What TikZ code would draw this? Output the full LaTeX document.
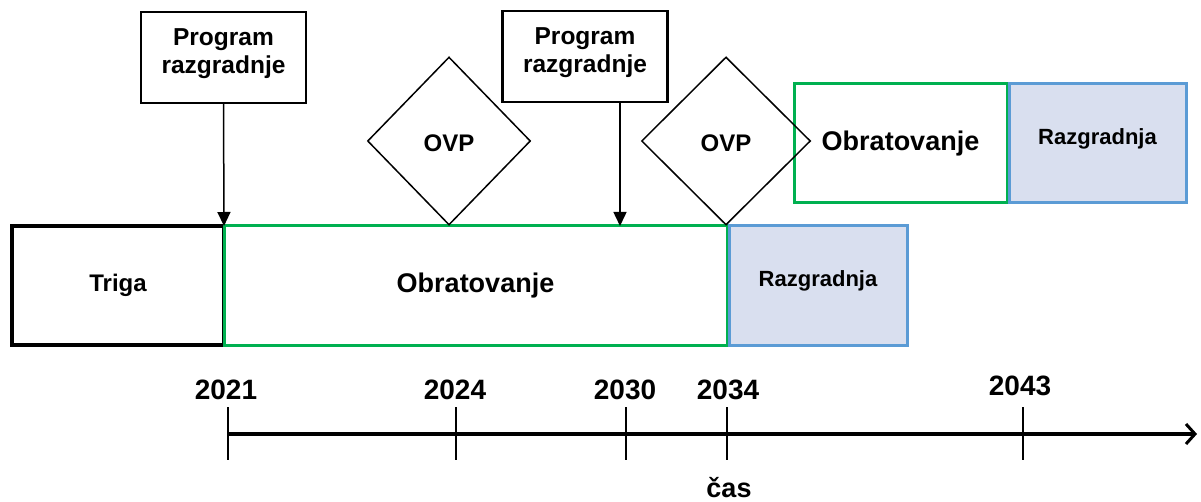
\documentclass[tikz,border=0pt]{standalone}
\usepackage{fontspec}
\setmainfont{Liberation Sans}
\usetikzlibrary{shapes.geometric,arrows.meta}
\definecolor{grn}{HTML}{00B050}
\definecolor{blu}{HTML}{5B9BD5}
\definecolor{blufill}{HTML}{D9DFEF}
\tikzset{
  box/.style={draw, inner sep=0pt, outer sep=0pt, align=center},
  blackbox/.style={box, line width=3.2pt, minimum width=212pt, minimum height=119pt, font=\fontsize{24}{28}\selectfont\bfseries},
  opbox/.style={box, draw=grn, line width=3pt, minimum height=119pt, font=\fontsize{27}{32}\selectfont\bfseries},
  razbox/.style={box, draw=blu, fill=blufill, line width=3pt, minimum width=177pt, minimum height=119pt, text height=15.8pt, text depth=12.8pt, font=\fontsize{22}{26}\selectfont\bfseries},
  progbox/.style={box, line width=2.5pt, minimum width=165pt, minimum height=91pt},
  progtext/.style={inner sep=0pt, align=center, font=\fontsize{24.5}{28}\selectfont\bfseries},
  ovp/.style={draw, diamond, line width=1.5pt, inner sep=0pt, minimum width=163pt, minimum height=168pt, text height=22pt, text depth=0pt, font=\fontsize{24}{28}\selectfont\bfseries},
  yearlbl/.style={font=\fontsize{28}{32}\selectfont\bfseries, inner sep=0pt, anchor=base},
  tick/.style={line width=1.5pt},
  arr/.style={line width=1.5pt, -{Triangle[length=14pt,width=13pt]}}
}
\begin{document}
\begin{tikzpicture}[x=1pt,y=-1pt]
\useasboundingbox (0,0) rectangle (1201,502);
% lower row
\node[blackbox] (triga) at (118,285.5) {Triga};
\node[opbox, minimum width=503pt] (obr1) at (475.5,285.5) {Obratovanje};
\node[razbox, minimum width=178pt] (raz1) at (818,285.5) {Razgradnja};
% upper row
\node[opbox, minimum width=213pt] (obr2) at (900.5,143.5) {Obratovanje};
\node[razbox] (raz2) at (1097.5,143.5) {Razgradnja};
% program boxes
\node[progbox] (p1) at (223.5,57.5) {};
\node[progtext, anchor=base] (p1t) at (223.5,74) {Program\\razgradnje};
\node[progbox] (p2) at (585,56.5) {};
\node[progtext, anchor=base] (p2t) at (585,73) {Program\\razgradnje};
% diamonds
\node[ovp] (ovp1) at (449,141) {OVP};
\node[ovp, minimum width=169pt] (ovp2) at (726,141) {OVP};
% arrows
\coordinate (a2) at (620,0);
\draw[arr] (p1.south) -- (triga.north east);
\draw[arr] (p2.south -| a2) -- (a2 |- obr1.north);
% axis
\coordinate (a0) at (228,434);
\coordinate (a1) at (1197,434);
\draw[line width=4.5pt, -{Straight Barb[length=9pt,width=20pt,line width=3pt]}] (a0) -- (a1);
\foreach \yr/\x in {2021/228,2024/456,2030/626,2034/727,2043/1023}{
  \coordinate (t\yr) at (\x,407);
  \coordinate (b\yr) at (\x,460);
  \draw[tick] (t\yr) -- (b\yr);
}
\node[yearlbl] (l2021) at (226,399) {2021};
\node[yearlbl] (l2024) at (455,399) {2024};
\node[yearlbl] (l2030) at (625,399) {2030};
\node[yearlbl] (l2034) at (728,399) {2034};
\node[yearlbl] (l2043) at (1020,395) {2043};
\node[font=\fontsize{27}{32}\selectfont\bfseries, inner sep=0pt, anchor=base] (cas) at (729,497) {čas};
\end{tikzpicture}
\end{document}
